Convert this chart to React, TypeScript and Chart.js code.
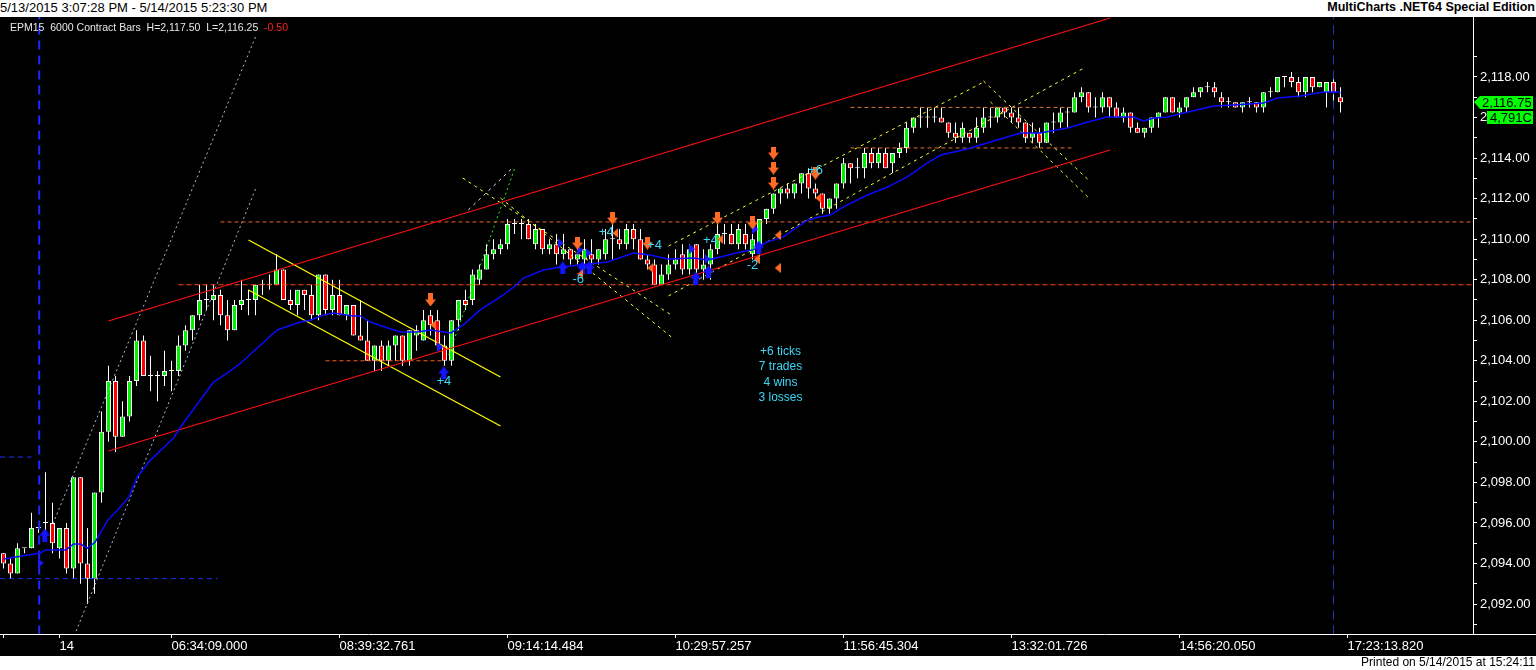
import React, { useEffect, useRef } from "react";
import { Chart, registerables } from "chart.js";

Chart.register(...registerables);

// ---------------- data ----------------
const opens = [
  2094.5, 2094.0, 2093.5, 2094.75, 2094.75, 2095.75, 2096.0, 2096.0, 2094.75, 2095.75,
  2093.75, 2098.25, 2094.0, 2093.25, 2097.5, 2100.5, 2103.0, 2100.25, 2101.25, 2103.0,
  2105.0, 2103.25, 2103.25, 2103.25, 2103.5, 2103.5, 2104.75, 2105.5, 2106.25, 2107.0,
  2107.0, 2107.25, 2106.25, 2105.5, 2106.75, 2107.0, 2107.0, 2107.75, 2107.75, 2107.75,
  2108.5, 2107.0, 2106.75, 2107.5, 2107.25, 2106.25, 2108.25, 2106.5, 2107.25, 2106.25,
  2106.75, 2105.25, 2105.0, 2104.0, 2104.75, 2104.0, 2104.75, 2105.25, 2104.0, 2105.25,
  2105.0, 2106.25, 2106.0, 2104.75, 2104.0, 2106.0, 2107.0, 2107.0, 2108.0, 2108.5,
  2109.25, 2109.5, 2109.75, 2110.75, 2110.75, 2110.75, 2109.75, 2110.5, 2109.5, 2109.75,
  2109.25, 2109.5, 2109.0, 2109.0, 2109.25, 2109.0, 2109.25, 2110.0, 2110.0, 2109.75,
  2110.5, 2110.0, 2109.0, 2108.75, 2107.75, 2108.25, 2108.75, 2109.25, 2108.5, 2109.75,
  2108.5, 2108.75, 2109.5, 2110.25, 2110.25, 2109.75, 2110.25, 2109.25, 2109.75, 2111.0,
  2111.5, 2112.25, 2112.5, 2112.25, 2112.75, 2113.25, 2112.5, 2112.25, 2111.5, 2112.0,
  2112.75, 2113.75, 2113.5, 2113.5, 2114.25, 2113.75, 2114.25, 2113.75, 2114.25, 2114.5,
  2115.5, 2116.0, 2116.0, 2116.0, 2116.0, 2115.75, 2115.25, 2115.0, 2115.25, 2115.0,
  2115.5, 2116.0, 2116.0, 2116.5, 2116.25, 2116.0, 2115.75, 2115.0, 2115.25, 2114.75,
  2115.75, 2115.75, 2116.25, 2116.25, 2117.0, 2117.25, 2116.5, 2116.5, 2117.0, 2116.5,
  2116.0, 2116.25, 2115.5, 2115.25, 2115.5, 2116.0, 2116.25, 2117.0, 2116.25, 2116.5,
  2117.0, 2117.25, 2117.5, 2117.5, 2117.0, 2116.75, 2116.75, 2116.5, 2116.75, 2116.75,
  2116.5, 2117.25, 2117.25, 2118.0, 2118.0, 2117.75, 2117.25, 2118.0, 2117.5, 2117.25,
  2117.75, 2117.0,
];
const highs = [
  2094.5, 2094.25, 2095.0, 2094.75, 2096.5, 2095.75, 2098.5, 2097.0, 2095.75, 2096.0,
  2098.25, 2098.25, 2095.75, 2097.5, 2101.5, 2103.75, 2103.25, 2102.0, 2103.25, 2105.5,
  2105.25, 2104.25, 2103.5, 2104.5, 2104.0, 2105.25, 2105.75, 2106.25, 2107.75, 2107.75,
  2107.75, 2107.5, 2107.0, 2107.0, 2108.0, 2107.5, 2107.75, 2108.0, 2108.25, 2109.25,
  2108.5, 2107.5, 2107.5, 2107.5, 2107.75, 2108.25, 2108.25, 2108.0, 2108.0, 2106.75,
  2106.75, 2107.0, 2106.0, 2104.75, 2105.0, 2105.0, 2105.25, 2105.25, 2105.5, 2105.75,
  2106.5, 2106.5, 2106.5, 2105.25, 2106.0, 2107.0, 2107.5, 2108.5, 2108.75, 2109.75,
  2110.0, 2110.0, 2111.0, 2111.0, 2111.0, 2111.0, 2110.75, 2110.5, 2110.0, 2110.25,
  2110.25, 2109.5, 2109.5, 2110.0, 2110.0, 2109.5, 2110.5, 2110.75, 2110.5, 2110.75,
  2110.75, 2110.5, 2109.25, 2109.0, 2108.75, 2109.25, 2109.5, 2109.75, 2109.75, 2109.75,
  2109.5, 2109.75, 2110.75, 2110.75, 2110.75, 2110.75, 2110.75, 2110.25, 2111.0, 2111.5,
  2112.25, 2112.5, 2112.75, 2112.75, 2113.25, 2113.5, 2112.75, 2112.25, 2112.0, 2112.75,
  2114.0, 2113.75, 2114.0, 2114.5, 2114.5, 2114.5, 2114.5, 2114.25, 2114.75, 2115.75,
  2116.0, 2116.5, 2116.5, 2116.5, 2116.5, 2115.75, 2115.75, 2115.75, 2115.25, 2116.0,
  2116.5, 2116.5, 2116.5, 2116.5, 2116.5, 2116.5, 2115.75, 2115.75, 2115.5, 2115.75,
  2116.25, 2116.5, 2116.5, 2117.25, 2117.5, 2117.25, 2117.0, 2117.25, 2117.0, 2116.75,
  2116.5, 2116.25, 2115.75, 2115.5, 2116.0, 2116.25, 2117.0, 2117.0, 2116.75, 2117.0,
  2117.5, 2117.5, 2117.75, 2117.75, 2117.25, 2117.0, 2116.75, 2116.75, 2117.0, 2116.75,
  2117.25, 2117.5, 2118.0, 2118.0, 2118.25, 2118.0, 2118.0, 2118.0, 2117.75, 2117.75,
  2118.0, 2117.5,
];
const lows = [
  2093.75, 2093.25, 2093.5, 2094.5, 2094.75, 2095.5, 2095.5, 2094.5, 2094.25, 2093.5,
  2093.25, 2093.0, 2092.0, 2092.5, 2097.0, 2100.0, 2099.5, 2100.25, 2101.0, 2102.75,
  2103.25, 2102.5, 2102.0, 2102.75, 2102.5, 2103.25, 2104.5, 2105.0, 2106.0, 2106.5,
  2106.0, 2105.75, 2105.0, 2105.5, 2106.5, 2106.25, 2106.25, 2107.25, 2107.5, 2107.75,
  2107.0, 2106.5, 2106.25, 2106.5, 2106.0, 2106.0, 2106.25, 2106.25, 2106.25, 2106.0,
  2105.25, 2105.0, 2104.0, 2103.5, 2103.5, 2103.75, 2104.0, 2103.75, 2103.75, 2104.5,
  2105.0, 2105.25, 2104.5, 2103.75, 2103.75, 2105.5, 2106.5, 2106.75, 2107.75, 2108.5,
  2109.0, 2109.25, 2109.5, 2110.25, 2110.0, 2110.0, 2109.5, 2109.25, 2109.25, 2108.75,
  2109.0, 2108.75, 2108.75, 2108.5, 2108.75, 2108.75, 2109.0, 2109.0, 2109.5, 2109.5,
  2109.5, 2109.0, 2108.5, 2107.75, 2107.75, 2108.0, 2108.5, 2108.25, 2108.25, 2108.25,
  2108.0, 2108.0, 2109.25, 2109.75, 2109.75, 2109.5, 2109.5, 2109.0, 2109.5, 2110.75,
  2111.25, 2111.75, 2112.0, 2112.0, 2112.25, 2112.0, 2112.0, 2111.25, 2111.25, 2111.5,
  2112.5, 2112.75, 2113.0, 2113.0, 2113.5, 2113.5, 2113.5, 2113.25, 2114.0, 2114.25,
  2115.25, 2115.5, 2115.5, 2115.75, 2115.75, 2115.0, 2114.75, 2114.75, 2114.75, 2114.75,
  2115.25, 2115.5, 2115.75, 2116.0, 2115.75, 2115.5, 2114.75, 2114.75, 2114.5, 2114.75,
  2115.25, 2115.5, 2115.5, 2116.25, 2116.75, 2116.25, 2116.0, 2116.25, 2116.0, 2116.0,
  2115.75, 2115.25, 2115.25, 2115.0, 2115.25, 2115.5, 2116.25, 2116.25, 2116.0, 2116.25,
  2117.0, 2117.0, 2117.25, 2117.0, 2116.5, 2116.5, 2116.5, 2116.25, 2116.5, 2116.25,
  2116.25, 2117.0, 2117.25, 2117.5, 2117.5, 2117.0, 2117.0, 2117.25, 2117.5, 2116.5,
  2116.5, 2116.25,
];
const closes = [
  2094.0, 2093.5, 2094.75, 2094.75, 2095.75, 2095.75, 2096.0, 2095.0, 2095.75, 2093.75,
  2098.25, 2094.0, 2093.25, 2097.5, 2100.5, 2103.0, 2100.25, 2101.25, 2103.0, 2105.0,
  2103.25, 2103.25, 2103.25, 2103.5, 2103.5, 2104.75, 2105.5, 2106.25, 2107.0, 2107.0,
  2107.25, 2106.25, 2105.5, 2106.75, 2107.0, 2107.0, 2107.75, 2107.75, 2107.75, 2108.5,
  2107.0, 2106.75, 2107.5, 2107.25, 2106.25, 2108.25, 2106.5, 2107.25, 2106.25, 2106.75,
  2105.25, 2105.0, 2104.0, 2104.75, 2104.0, 2104.75, 2105.25, 2104.0, 2105.5, 2105.5,
  2106.0, 2105.75, 2104.75, 2104.0, 2106.0, 2107.0, 2106.75, 2108.25, 2108.5, 2109.25,
  2109.5, 2109.75, 2110.75, 2110.75, 2110.75, 2110.0, 2110.5, 2109.5, 2109.75, 2109.25,
  2109.5, 2109.0, 2109.25, 2109.5, 2109.0, 2109.5, 2110.0, 2110.0, 2109.75, 2110.5,
  2110.0, 2109.0, 2108.75, 2107.75, 2108.25, 2108.75, 2109.0, 2108.5, 2109.5, 2108.5,
  2108.75, 2109.5, 2110.25, 2110.25, 2109.75, 2110.5, 2109.75, 2110.0, 2111.0, 2111.5,
  2112.25, 2112.5, 2112.25, 2112.75, 2113.25, 2112.5, 2112.25, 2111.5, 2112.0, 2112.75,
  2113.75, 2113.5, 2113.5, 2114.25, 2113.75, 2114.25, 2113.5, 2114.25, 2114.5, 2115.5,
  2116.0, 2116.0, 2116.0, 2116.0, 2115.75, 2115.25, 2115.0, 2115.5, 2115.0, 2115.5,
  2116.0, 2116.0, 2116.5, 2116.25, 2116.0, 2115.75, 2115.0, 2115.25, 2114.75, 2115.75,
  2115.75, 2116.25, 2116.25, 2117.0, 2117.25, 2116.5, 2116.5, 2117.0, 2116.5, 2116.0,
  2116.25, 2115.5, 2115.25, 2115.5, 2116.0, 2116.25, 2117.0, 2116.25, 2116.5, 2117.0,
  2117.25, 2117.5, 2117.5, 2117.25, 2116.75, 2116.75, 2116.5, 2116.75, 2116.75, 2116.5,
  2117.25, 2117.25, 2118.0, 2118.0, 2117.75, 2117.25, 2118.0, 2117.5, 2117.75, 2117.75,
  2117.25, 2116.75,
];

// moving average, read at sample bars
const maIdx = [
  0, 5.3, 6, 8.9, 10, 11, 12, 13.1, 14.9, 16.3, 17.9, 19.1, 21, 24.3, 25.7, 30, 32, 33.9, 39.1, 42.4,
  43.9, 45.7, 47.1, 50, 51, 52.4, 54.9, 56.7, 59.1, 61, 63.9, 65.7, 68.1, 71, 72.9, 74.3, 77.1, 79.6, 82.4, 86.3,
  90, 92.4, 94.9, 98.6, 100.6, 102.4, 105.3, 107.1, 109.1, 111.4, 114.9, 116.7, 118.1, 120, 123.4, 126.3, 129.1, 132, 133.9, 137.7,
  139.1, 142.4, 145.3, 148.1, 152, 154.9, 157.7, 161.4, 162.9, 164.3, 166.3, 168.6, 172.9, 175.7, 180, 182, 185.3, 188.6, 190.6, 191,
];
const maVal = [
  2094.22, 2094.52, 2094.67, 2094.67, 2094.96, 2094.96, 2094.76, 2095.06, 2096.14, 2096.64,
  2097.28, 2098.27, 2099.1, 2100.19, 2100.93, 2102.95, 2103.4, 2103.89, 2105.52, 2105.91,
  2106.01, 2106.26, 2106.36, 2106.21, 2106.21, 2105.91, 2105.62, 2105.42, 2105.42, 2105.52,
  2105.37, 2105.77, 2106.51, 2107.15, 2107.64, 2108.08, 2108.48, 2108.63, 2108.73, 2108.87,
  2109.32, 2109.22, 2109.02, 2109.07, 2108.97, 2109.12, 2109.37, 2109.47, 2109.86, 2110.11,
  2110.95, 2111.1, 2111.19, 2111.59, 2112.18, 2112.57, 2113.07, 2113.76, 2114.15, 2114.45,
  2114.6, 2114.94, 2115.24, 2115.24, 2115.48, 2115.78, 2116.03, 2116.03, 2115.83, 2115.98,
  2116.03, 2116.22, 2116.57, 2116.62, 2116.72, 2116.96, 2117.06, 2117.26, 2117.26, 2117.21,
];

const xTickIdx = [0, 8, 24, 48, 72, 96, 120, 144, 168, 192];
const xTickLabels = ["", "14", "06:34:09.000", "08:39:32.761", "09:14:14.484", "10:29:57.257",
  "11:56:45.304", "13:32:01.726", "14:56:20.050", "17:23:13.820"];
const yTickVals = [2091, 2092, 2093, 2094, 2095, 2096, 2097, 2098, 2099, 2100, 2101, 2102, 2103, 2104,
  2105, 2106, 2107, 2108, 2109, 2110, 2111, 2112, 2113, 2114, 2115, 2116, 2117, 2118, 2119];

// trend lines: [barIndex, price] endpoints
const chanUpper = [[15, 2105.96], [158.1, 2120.91]];
const chanLower = [[15, 2099.55], [158.1, 2114.4]];
const levelLow = [[25, 2107.75], [210, 2107.75]];
const levelHigh = [[31, 2110.85], [210, 2110.85]];
const levelShort = [[46, 2104], [63, 2104]];
const rangeLow = [[121, 2114.5], [153, 2114.5]];
const rangeHigh = [[121, 2116.5], [153, 2116.5]];
const sessLow = [[-0.5, 2093.25], [30.6, 2093.25]];
const sessMid = [[-0.5, 2099.25], [4, 2099.25]];
const sessStart = [[5.1, 2090.5], [5.1, 2121]];
const sessEnd = [[190, 2090.5], [190, 2121]];
const steepA = [[36, 2119.97], [7.1, 2096.0]];
const steepB = [[36, 2112.47], [10.3, 2090.6]];
const greenUp = [[63.6, 2104.29], [73.1, 2113.56]];
const yChanUpper = [[35, 2109.96], [71, 2103.2]];
const yChanLower = [[35, 2107.49], [71, 2100.78]];
const yDash1 = [[65.6, 2113.02], [95.6, 2106.21]];
const yDash2 = [[71, 2112.03], [95.6, 2105.12]];
const wDash = [[66.4, 2111.44], [72.7, 2113.51]];
const yUp1 = [[95, 2109.66], [140, 2117.75]];
const yUp2 = [[95, 2107.2], [154.6, 2118.49]];
const yDn1 = [[140, 2117.8], [155, 2112.92]];
const yDn2 = [[141, 2116.77], [154.9, 2112.08]];

// markers
const sellArrows = [[61, 2107.0], [82, 2109.81], [87, 2111.04], [92, 2109.81], [102, 2111.04], [107, 2110.8],
  [110, 2114.25], [110, 2113.51], [110, 2112.77], [116, 2113.26]];
const exitShort = [[61.4, 2105.77], [82.4, 2108.28], [87.4, 2110.3], [92.4, 2108.58], [102.4, 2110.0],
  [107.6, 2109.02], [110.6, 2110.2], [110.6, 2108.58], [116.4, 2112.03]];
const exitLong = [[5.3, 2094.02], [62.4, 2104.68], [79.6, 2109.81], [82.4, 2109.47], [83.6, 2109.32],
  [98.4, 2109.51], [100.6, 2109.02], [107.4, 2110.5]];
const buyArrows = [[5.9, 2095.4], [62.9, 2103.4], [79.9, 2108.58], [82.7, 2108.58], [83.7, 2108.58],
  [98.9, 2108.08], [100.7, 2108.38], [107.9, 2109.61]];

const tradeText = ["+4", "-6", "+4", "+4", "+4", "-2", "+6"];
const tradeIdx = [62.9, 82.1, 86.1, 93, 101, 107, 116];
const tradePrice = [2103.0, 2108.0, 2110.35, 2109.7, 2109.96, 2108.68, 2113.4];

const statText = ["+6 ticks", "7 trades", "4 wins", "3 losses"];
const statIdx = 111;
const statPrice = [2104.43, 2103.69, 2102.9, 2102.16];

const volumeTag = "4,791C";

// ---------------- styles ----------------
const FONT = "'Liberation Sans', Arial, sans-serif";
const CYAN = "#3ad6f6";

const lineStyles: [number[][], string, number, number[]][] = [
  [chanUpper, "#ff1010", 1.2, []],
  [chanLower, "#ff1010", 1.2, []],
  [levelLow, "#ff4a12", 1.2, [5, 3]],
  [levelHigh, "#e8622a", 1, [4, 3]],
  [levelShort, "#ff5a1a", 1, [4, 3]],
  [rangeLow, "#e0702a", 1, [4, 3]],
  [rangeHigh, "#d8783a", 1, [4, 3]],
  [sessLow, "#2030ff", 1, [5, 4]],
  [sessMid, "#2030ff", 1, [5, 4]],
  [sessStart, "#1a2aff", 2, [9, 6]],
  [sessEnd, "#2038b8", 1, [9, 6]],
  [steepA, "#a4bcdc", 1, [2, 3]],
  [steepB, "#a4bcdc", 1, [2, 3]],
  [greenUp, "#22ee22", 1, [2, 3]],
  [yChanUpper, "#ffff00", 1.2, []],
  [yChanLower, "#ffff00", 1.2, []],
  [yDash1, "#ffff33", 1, [3, 4]],
  [yDash2, "#ffff33", 1, [3, 4]],
  [wDash, "#e8e8e8", 1, [3, 4]],
  [yUp1, "#ffff33", 1, [3, 4]],
  [yUp2, "#ffff33", 1, [3, 4]],
  [yDn1, "#ffff33", 1, [3, 4]],
  [yDn2, "#ffff33", 1, [3, 4]],
];

function makeMarker(w: number, h: number, color: string, pts: number[][]) {
  const c = document.createElement("canvas");
  c.width = w;
  c.height = h;
  const g = c.getContext("2d")!;
  g.fillStyle = color;
  g.beginPath();
  pts.forEach(([x, y], k) => (k ? g.lineTo(x, y) : g.moveTo(x, y)));
  g.closePath();
  g.fill();
  return c;
}

const fmtPrice = (v: number) =>
  v.toLocaleString("en-US", { minimumFractionDigits: 2, maximumFractionDigits: 2 });

export default function App() {
  const ref = useRef<HTMLCanvasElement | null>(null);

  useEffect(() => {
    if (!ref.current) return;
    const down = makeMarker(11, 13, "#ff6a24", [[3, 0], [8, 0], [8, 6], [11, 6], [5.5, 13], [0, 6], [3, 6]]);
    const up = makeMarker(11, 13, "#1414ff", [[3, 13], [8, 13], [8, 7], [11, 7], [5.5, 0], [0, 7], [3, 7]]);
    const left = makeMarker(6, 10, "#ff6a24", [[6, 0], [6, 10], [0, 5]]);
    const right = makeMarker(6, 10, "#1a1aff", [[0, 0], [0, 10], [6, 5]]);

    const bodyColors = opens.map((o, k) =>
      closes[k] > o ? "#00f000" : closes[k] < o ? "#ff0000" : "#ffffff"
    );

    const lineDatasets = lineStyles.map(([pts, color, width, dash]) => ({
      type: "line" as const,
      data: pts.map(([x, y]) => ({ x, y })),
      borderColor: color,
      borderWidth: width,
      borderDash: dash,
      pointRadius: 0,
      fill: false,
      tension: 0,
      order: 5,
    }));

    const markerDs = (pts: number[][], style: HTMLCanvasElement) => ({
      type: "scatter" as const,
      data: pts.map(([x, y]) => ({ x, y })),
      pointStyle: style,
      pointRadius: 5,
      showLine: false,
      order: 1,
    });

    const overlay = {
      id: "overlay",
      afterDatasetsDraw(chart: any) {
        const { ctx, scales } = chart;
        const xs = scales.x;
        const ys = scales.y;
        ctx.save();
        ctx.fillStyle = CYAN;
        ctx.textAlign = "center";
        ctx.textBaseline = "middle";
        ctx.font = `13px ${FONT}`;
        tradeText.forEach((t, k) => {
          ctx.fillText(t, xs.getPixelForValue(tradeIdx[k]), ys.getPixelForValue(tradePrice[k]));
        });
        ctx.font = `12px ${FONT}`;
        statText.forEach((t, k) => {
          ctx.fillText(t, xs.getPixelForValue(statIdx), ys.getPixelForValue(statPrice[k]));
        });
        ctx.restore();
      },
      afterDraw(chart: any) {
        const { ctx, chartArea, scales } = chart;
        const ys = scales.y;
        ctx.save();
        ctx.strokeStyle = "#ffffff";
        ctx.lineWidth = 1;
        ctx.beginPath();
        ctx.moveTo(chartArea.right, chartArea.bottom + 0.5);
        ctx.lineTo(chart.width, chartArea.bottom + 0.5);
        ctx.stroke();
        const last = closes[closes.length - 1];
        const y0 = Math.round(ys.getPixelForValue(last));
        const r = chartArea.right;
        ctx.fillStyle = "#00ff00";
        ctx.beginPath();
        ctx.moveTo(r + 1, y0);
        ctx.lineTo(r + 7, y0 - 6);
        ctx.lineTo(r + 60, y0 - 6);
        ctx.lineTo(r + 60, y0 + 7);
        ctx.lineTo(r + 7, y0 + 7);
        ctx.closePath();
        ctx.fill();
        ctx.fillRect(r + 14, y0 + 9, 46, 13);
        ctx.fillStyle = "#000000";
        ctx.font = `13px ${FONT}`;
        ctx.textAlign = "left";
        ctx.textBaseline = "middle";
        ctx.fillText(fmtPrice(last), r + 9, y0 + 1);
        ctx.fillText(volumeTag, r + 17, y0 + 16);
        ctx.restore();
      },
    };

    const chart = new Chart(ref.current, {
      type: "bar",
      data: {
        datasets: [
          {
            type: "bar",
            data: lows.map((l, k) => ({ x: k, y: [l, highs[k]] })) as any,
            backgroundColor: "#ffffff",
            borderWidth: 0,
            grouped: false,
            maxBarThickness: 1,
            minBarLength: 1,
            order: 10,
          } as any,
          {
            type: "bar",
            data: opens.map((o, k) => ({ x: k, y: [Math.min(o, closes[k]), Math.max(o, closes[k])] })) as any,
            backgroundColor: bodyColors,
            borderColor: "#ffffff",
            borderWidth: 1,
            borderSkipped: false,
            grouped: false,
            maxBarThickness: 5,
            minBarLength: 1,
            order: 9,
          } as any,
          ...lineDatasets,
          {
            type: "line",
            data: maIdx.map((x, k) => ({ x, y: maVal[k] })),
            borderColor: "#0a0aff",
            borderWidth: 1.5,
            pointRadius: 0,
            fill: false,
            tension: 0,
            order: 4,
          } as any,
          markerDs(sellArrows, down),
          markerDs(exitShort, left),
          markerDs(exitLong, right),
          markerDs(buyArrows, up),
        ] as any,
      },
      options: {
        responsive: false,
        animation: false,
        events: [],
        layout: { padding: 0, autoPadding: false },
        plugins: { legend: { display: false }, tooltip: { enabled: false } },
        scales: {
          x: {
            type: "linear",
            min: -0.5,
            max: 209.93,
            offset: false,
            position: "bottom",
            grid: { drawOnChartArea: false, offset: false, color: "#ffffff", tickColor: "#ffffff", tickLength: 4 },
            border: { display: true, color: "#ffffff", width: 1 },
            ticks: {
              color: "#ffffff",
              font: { size: 13, family: FONT },
              align: "start",
              maxRotation: 0,
              autoSkip: false,
              padding: 1,
              callback: (v: any) => {
                const k = xTickIdx.indexOf(Number(v));
                return k >= 0 ? xTickLabels[k] : "";
              },
            },
            afterBuildTicks: (s: any) => {
              s.ticks = xTickIdx.map((v) => ({ value: v }));
            },
            afterFit: (s: any) => {
              s.height = 22;
              s.paddingLeft = 0;
              s.paddingRight = 0;
            },
          } as any,
          y: {
            type: "linear",
            position: "right",
            min: 2090.52,
            max: 2120.96,
            grid: { drawOnChartArea: false, color: "#ffffff", tickColor: "#ffffff", tickLength: 4 },
            border: { display: true, color: "#ffffff", width: 1 },
            ticks: {
              color: "#ffffff",
              font: { size: 13, family: FONT },
              padding: 3,
              autoSkip: false,
              callback: (v: any) => (Number(v) % 2 === 0 ? fmtPrice(Number(v)) : ""),
            },
            afterBuildTicks: (s: any) => {
              s.ticks = yTickVals.map((v) => ({ value: v }));
            },
            afterFit: (s: any) => {
              s.width = 63;
              s.paddingTop = 0;
              s.paddingBottom = 0;
            },
          } as any,
        },
      },
      plugins: [overlay],
    });
    return () => chart.destroy();
  }, []);

  return (
    <div style={{ position: "absolute", left: 0, top: 0, width: 1536, height: 670, background: "#ffffff", overflow: "hidden" }}>
      <div style={{ position: "absolute", left: 0, top: 0, height: 17, lineHeight: "17px", font: `13px ${FONT}`, color: "#000" }}>
        5/13/2015 3:07:28 PM - 5/14/2015 5:23:30 PM
      </div>
      <div style={{ position: "absolute", right: 1, top: 0, height: 17, lineHeight: "17px", font: `bold 12.5px ${FONT}`, color: "#000" }}>
        MultiCharts .NET64 Special Edition
      </div>
      <div style={{ position: "absolute", left: 0, top: 17, width: 1536, height: 639, background: "#000" }}>
        <canvas ref={ref} width={1536} height={639} style={{ display: "block" }} />
        <div style={{ position: "absolute", left: 10, top: 4, font: `10.5px ${FONT}`, color: "#e8e8e8", whiteSpace: "pre", pointerEvents: "none" }}>
          {"EPM15  6000 Contract Bars  H=2,117.50  L=2,116.25  "}
          <span style={{ color: "#ff2020" }}>-0.50</span>
        </div>
      </div>
      <div style={{ position: "absolute", right: 1, top: 655, lineHeight: "15px", font: `12px ${FONT}`, color: "#000" }}>
        Printed on 5/14/2015 at 15:24:11
      </div>
    </div>
  );
}
